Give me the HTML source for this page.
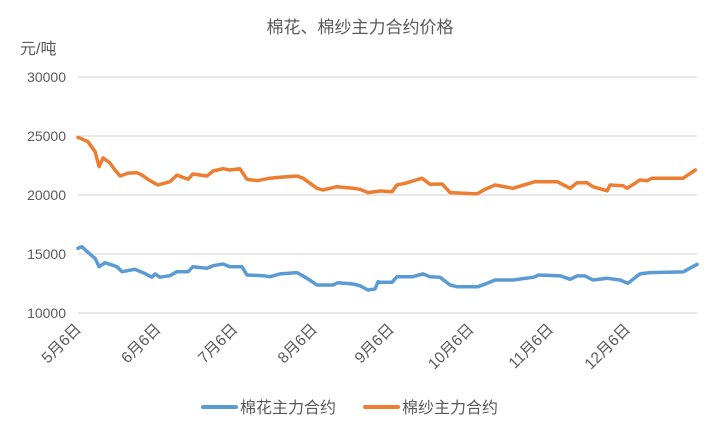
<!DOCTYPE html>
<html><head><meta charset="utf-8"><style>
body{margin:0;background:#fff;}
svg{display:block;font-family:"Liberation Sans","Noto Sans CJK SC",sans-serif;}
</style></head><body>
<svg id="chart" width="720" height="436" viewBox="0 0 720 436">
<text x="360" y="33" text-anchor="middle" font-size="17" fill="#595959">棉花、棉纱主力合约价格</text>
<text x="20" y="54" font-size="16" fill="#595959">元/吨</text>
<g id="grid"></g><g id="yticks"></g><g id="xticks"></g><g id="series"></g>
<g>
<line x1="203" y1="407" x2="236" y2="407" stroke="#5b9bd5" stroke-width="4" stroke-linecap="round"/>
<text x="240" y="413" font-size="16" fill="#595959">棉花主力合约</text>
<line x1="365" y1="407" x2="398" y2="407" stroke="#ed7d31" stroke-width="4" stroke-linecap="round"/>
<text x="402" y="413" font-size="16" fill="#595959">棉纱主力合约</text>
</g>
</svg>
<script>
const yTicks=[10000,15000,20000,25000,30000];
const xLabels=["5月6日","6月6日","7月6日","8月6日","9月6日","10月6日","11月6日","12月6日"];
const xLabelDays=[0,28,55,83,110,138,166,193];
const yarnDays=[0,3.5,6,7.4,8.8,11.2,13,14.8,17.6,20.7,22.5,25.3,28.1,32.3,34.8,38.7,40.4,45.3,47.5,51,53.4,56.9,59.4,62.9,67.5,71,77,79.1,84,86.1,91,96.7,99.1,101.9,106.2,110.4,112.1,115,120.9,123.7,128,130.8,140.2,143.1,146.6,152.9,160.6,168.4,173,175.4,178.9,181,186,187,191.6,193,197.5,200,201.8,212.7,217];
const yarnVals=[24890,24520,23670,22400,23140,22710,22120,21610,21860,21890,21690,21210,20850,21130,21690,21330,21780,21610,22030,22230,22120,22230,21330,21210,21420,21500,21610,21420,20570,20420,20700,20570,20480,20200,20340,20280,20850,20990,21420,20910,20930,20200,20090,20480,20850,20570,21130,21130,20570,21040,21040,20700,20360,20850,20790,20570,21270,21210,21420,21420,22120];
const cottonDays=[0,1.4,3.2,6,7.4,9.5,13.7,15.5,20,22.8,26,27.1,28.8,32.3,34.8,38.7,40.4,45.3,47.5,51,53.4,57.6,59.4,65,67.5,71,77,80.5,84,89.6,91.4,96.7,99.1,101.9,104.4,105.5,106.2,110.4,112.1,117.7,121.2,123.7,127.2,130.8,133.2,140.6,143.8,146.6,152.9,160.2,161.9,169.6,173,175.4,178.2,181,186,190.5,193.3,197.5,201.1,212.7,217.6];
const cottonVals=[15480,15620,15200,14630,13920,14260,13920,13500,13700,13420,13030,13310,13030,13160,13500,13500,13920,13790,14010,14150,13920,13920,13220,13160,13080,13310,13420,12940,12370,12370,12570,12460,12310,11950,12030,12650,12600,12600,13080,13080,13310,13080,13030,12370,12230,12230,12520,12800,12800,13030,13220,13140,12860,13140,13140,12800,12940,12800,12520,13310,13420,13480,14130];
const NS="http://www.w3.org/2000/svg";
const X0=78,PX_PER_DAY=2.845,Y0=313,PX_PER_UNIT=236/20000;
const xs=d=>X0+d*PX_PER_DAY, ys=v=>Y0-(v-10000)*PX_PER_UNIT;
function mk(tag,attrs,parent){const e=document.createElementNS(NS,tag);for(const k in attrs)e.setAttribute(k,attrs[k]);parent.appendChild(e);return e;}
const grid=document.getElementById('grid'),yt=document.getElementById('yticks'),xt=document.getElementById('xticks'),ser=document.getElementById('series');
yTicks.forEach(v=>{
 const l=mk('line',{x1:X0,x2:697,y1:ys(v),y2:ys(v),stroke:'#d9d9d9','stroke-width':1.3},grid);
 
 
 const t=mk('text',{x:66,y:ys(v)+5,'text-anchor':'end','font-size':14,fill:'#595959'},yt);
 
 
 t.textContent=v;
});
xLabels.forEach((s,i)=>{
 const x=xs(xLabelDays[i])+4,y=330;
 const t=mk('text',{x:x,y:y,'text-anchor':'end','font-size':15.5,fill:'#595959',transform:`rotate(-45 ${x} ${y})`},xt);
 
 
 t.textContent=s;
});
function line(days,vals,color,name){
 const d=days.map((t,i)=>(i?'L':'M')+xs(t).toFixed(1)+','+ys(vals[i]).toFixed(1)).join('');
 const p=mk('path',{d:d,fill:'none',stroke:color,'stroke-width':3.5,'stroke-linejoin':'round','stroke-linecap':'round'},ser);
 
 
}
line(cottonDays,cottonVals,'#5b9bd5','cotton-line');
line(yarnDays,yarnVals,'#ed7d31','yarn-line');
</script>
</body></html>
